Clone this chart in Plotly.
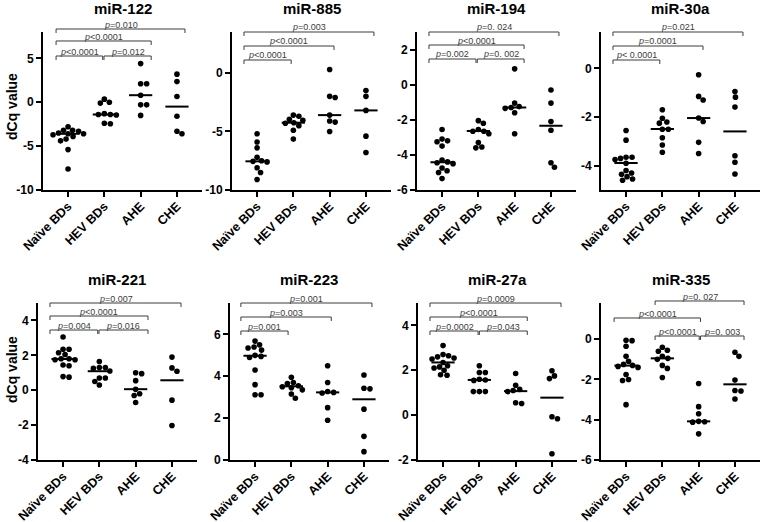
import numpy as np
import plotly.graph_objects as go

# ---------------- data ----------------
CATEGORIES = ["Naïve BDs", "HEV BDs", "AHE", "CHE"]
TITLES = ["miR-122", "miR-885", "miR-194", "miR-30a",
          "miR-221", "miR-223", "miR-27a", "miR-335"]

mir122 = [
    [-2.8, -3.2, -3.2, -3.3, -3.5, -3.6, -3.6, -3.7, -3.9, -4.2, -4.4, -5.4, -7.6],
    [0.35, 0.0, -0.1, -1.3, -1.4, -1.4, -1.45, -2.4, -2.45],
    [4.4, 2.1, 2.1, 0.8, -0.3, -0.3, -1.5],
    [3.2, 2.35, 0.65, -1.6, -3.3, -3.6],
]
mir122_median = [-3.6, -1.4, 0.8, -0.5]

mir885 = [
    [-5.2, -5.9, -6.4, -7.2, -7.5, -7.55, -7.6, -8.1, -8.5, -9.1],
    [-3.6, -3.7, -3.95, -4.05, -4.25, -4.3, -4.5, -4.9, -5.65],
    [0.3, -2.0, -2.1, -3.6, -4.1, -4.2, -5.0],
    [-1.5, -2.0, -3.2, -5.4, -6.8],
]
mir885_median = [-7.55, -4.25, -3.6, -3.2]

mir194 = [
    [-2.55, -3.1, -3.2, -3.25, -3.5, -4.3, -4.4, -4.45, -4.5, -4.75, -4.9, -5.0, -5.35],
    [-2.05, -2.2, -2.55, -2.65, -2.65, -2.8, -3.3, -3.55, -3.6],
    [0.9, -1.05, -1.25, -1.3, -1.35, -1.6, -2.8],
    [-0.3, -1.05, -2.1, -2.6, -4.45, -4.7],
]
mir194_median = [-4.42, -2.64, -1.3, -2.34]

mir30a = [
    [-2.55, -2.95, -3.65, -3.65, -3.7, -3.75, -3.9, -4.2, -4.3, -4.35, -4.45, -4.55, -4.6],
    [-1.7, -2.05, -2.2, -2.25, -2.5, -2.5, -2.85, -3.15, -3.45],
    [-0.26, -1.15, -1.3, -2.04, -2.18, -3.04, -3.5],
    [-0.95, -1.18, -1.59, -3.59, -3.86, -4.34],
]
mir30a_median = [-3.89, -2.49, -2.04, -2.59]

mir221 = [
    [3.05, 2.35, 2.35, 2.15, 2.05, 1.8, 1.8, 1.75, 1.75, 1.45, 1.4, 0.78, 0.75],
    [1.65, 1.3, 1.3, 1.25, 1.1, 0.7, 0.7, 0.5, 0.3],
    [1.0, 0.95, 0.55, 0.05, -0.2, -0.3, -0.7],
    [1.9, 1.28, 1.09, -0.57, -2.02],
]
mir221_median = [1.79, 1.09, 0.06, 0.57]

mir223 = [
    [5.68, 5.5, 5.4, 5.35, 5.25, 5.0, 4.95, 4.9, 4.3, 3.6, 3.12, 3.12],
    [3.95, 3.7, 3.65, 3.55, 3.5, 3.45, 3.35, 3.15, 2.95],
    [4.5, 3.7, 3.27, 3.23, 3.2, 2.5, 1.9],
    [4.06, 3.43, 3.4, 2.43, 1.13, 0.4],
]
mir223_median = [4.98, 3.52, 3.23, 2.9]

mir27a = [
    [3.1, 2.7, 2.65, 2.6, 2.55, 2.5, 2.35, 2.2, 2.15, 2.1, 2.0, 1.8, 1.78],
    [2.2, 1.9, 1.9, 1.6, 1.57, 1.55, 1.05, 1.05, 1.05],
    [1.86, 1.33, 1.15, 1.1, 1.05, 0.55, 0.52],
    [1.98, 1.75, 1.63, -0.07, -0.16, -1.72],
]
mir27a_median = [2.35, 1.57, 1.07, 0.78]

mir335 = [
    [-0.05, -0.07, -0.35, -0.85, -1.1, -1.25, -1.3, -1.35, -1.4, -1.75, -2.0, -2.05, -3.25],
    [-0.4, -0.55, -0.6, -0.85, -0.95, -1.0, -1.3, -1.45, -1.9],
    [-2.2, -3.35, -3.7, -4.08, -4.1, -4.12, -4.7],
    [-0.65, -0.85, -2.03, -2.55, -2.57, -2.97],
]
mir335_median = [-1.31, -0.95, -4.08, -2.24]

# p-value comparisons: (group a, group b, label)
cmp122 = [(0, 3, "=0.010"), (0, 2, "<0.0001"), (0, 1, "<0.0001"), (1, 2, "=0.012")]
cmp885 = [(0, 3, "=0.003"), (0, 2, "<0.0001"), (0, 1, "<0.0001")]
cmp194 = [(0, 3, "=0. 024"), (0, 2, "<0.0001"), (0, 1, "=0.002"), (1, 2, "=0. 002")]
cmp30a = [(0, 3, "=0.021"), (0, 2, "=0.0001"), (0, 1, "< 0.0001")]
cmp221 = [(0, 3, "=0.007"), (0, 2, "<0.0001"), (0, 1, "=0.004"), (1, 2, "=0.016")]
cmp223 = [(0, 3, "=0.001"), (0, 2, "=0.003"), (0, 1, "=0.001")]
cmp27a = [(0, 3, "=0.0009"), (0, 2, "<0.0001"), (0, 1, "=0.0002"), (1, 2, "=0.043")]
cmp335 = [(1, 3, "=0. 027"), (0, 2, "<0.0001"), (1, 2, "<0.0001"), (2, 3, "=0. 003")]

Y_RANGES = [[-10, 8], [-10, 3.5], [-6, 3], [-5, 1.5],
            [-4, 5], [0, 7.5], [-2, 5], [-6, 1.8]]
Y_TICKS = [[-10, -5, 0, 5], [-10, -5, 0], [-6, -4, -2, 0, 2], [-4, -2, 0],
           [-4, -2, 0, 2, 4], [0, 2, 4, 6], [-2, 0, 2, 4], [-6, -4, -2, 0]]

DATA = [mir122, mir885, mir194, mir30a, mir221, mir223, mir27a, mir335]
MEDIANS = [mir122_median, mir885_median, mir194_median, mir30a_median,
           mir221_median, mir223_median, mir27a_median, mir335_median]
COMPARISONS = [cmp122, cmp885, cmp194, cmp30a, cmp221, cmp223, cmp27a, cmp335]

# ---------------- layout / style ----------------
W, H = 760, 522
X_START_PX = [43, 232, 417, 601, 38, 230, 418, 601]
PLOT_W_PX = 159
ROW_TOP_PX = [32, 303]
ROW_BOT_PX = [190, 460]
X_RANGE = [-0.69, 3.69]
# bracket end positions (category units) and bracket heights (px from axis top)
BRK_X = [[-0.33, 0.99, 2.29, 3.22], [-0.36, 0.94, 2.12, 3.22],
         [-0.36, 0.97, 2.26, 3.22], [-0.36, 0.93, 2.12, 3.22],
         [-0.36, 0.99, 2.34, 3.25], [-0.39, 0.91, 2.10, 3.22],
         [-0.36, 1.00, 2.32, 3.25], [-0.33, 0.80, 2.05, 3.25]]
BRK_LEVEL_PX = [[-3, 9, 24, 24], [0, 14, 28], [0, 13, 27, 27], [0, 14, 28],
                [0, 13, 27, 27], [0, 14, 28], [0, 14, 28, 28], [-2, 15, 33, 33]]
FONT = "Liberation Sans, Arial, sans-serif"
DOT_PX = 5.6
MED_HALF = 0.32
BRK_COLOR = "#3c3c3c"


def px2py(px):
    return 1 - px / H


def swarm(values, ppu_y, ppu_x, diam):
    vals = np.asarray(values, dtype=float)
    order = np.argsort(-vals, kind="stable")
    placed = []
    offs = np.zeros(len(vals))
    for idx in order:
        y = vals[idx] * ppu_y
        best = 0.0
        for k in range(0, 200):
            cands = [0.0] if k == 0 else [k * 0.5, -k * 0.5]
            found = None
            for c in cands:
                if all((c - xo) ** 2 + (y - yo) ** 2 >= diam ** 2 for yo, xo in placed):
                    found = c
                    break
            if found is not None:
                best = found
                break
        placed.append((y, best))
        offs[idx] = best / ppu_x
    return offs


fig = go.Figure()
annotations = []
shapes = []

for p in range(8):
    row = p // 4
    ax = "" if p == 0 else str(p + 1)
    xa, ya = "x" + ax, "y" + ax
    top, bot = ROW_TOP_PX[row], ROW_BOT_PX[row]
    x0px = X_START_PX[p]
    yr = Y_RANGES[p]
    ppu_y = (bot - top) / (yr[1] - yr[0])
    ppu_x = PLOT_W_PX / (X_RANGE[1] - X_RANGE[0])

    for g, vals in enumerate(DATA[p]):
        offs = swarm(vals, ppu_y, ppu_x, DOT_PX)
        fig.add_trace(go.Scatter(
            x=[g + o for o in offs], y=vals, mode="markers",
            marker=dict(color="black", size=DOT_PX, line=dict(width=0)),
            xaxis=xa, yaxis=ya, showlegend=False, hoverinfo="y", cliponaxis=False))
        med = MEDIANS[p][g]
        fig.add_trace(go.Scatter(
            x=[g - MED_HALF, g + MED_HALF], y=[med, med], mode="lines",
            line=dict(color="black", width=2), xaxis=xa, yaxis=ya,
            showlegend=False, hoverinfo="skip"))

    dom_x = [x0px / W, min(1.0, (x0px + PLOT_W_PX) / W)]
    dom_y = [px2py(bot), px2py(top)]
    common = dict(showline=True, linecolor="black", linewidth=2, ticks="outside",
                  ticklen=5, tickwidth=1.6, tickcolor="black", showgrid=False,
                  zeroline=False, fixedrange=True, automargin=False)
    fig.layout["xaxis" + ax] = dict(
        common, domain=dom_x, range=X_RANGE, anchor=ya, tickmode="array",
        tickvals=[0, 1, 2, 3], ticktext=CATEGORIES, tickangle=-45,
        ticklabelstandoff=-3,
        tickfont=dict(family=FONT, size=12.6, color="black", weight="bold"))
    fig.layout["yaxis" + ax] = dict(
        common, domain=dom_y, range=yr, anchor=xa, tickmode="array",
        tickvals=Y_TICKS[p], ticktext=[str(t) for t in Y_TICKS[p]],
        tickfont=dict(family=FONT, size=12, color="black", weight="bold"))

    # title
    annotations.append(dict(
        text="<b>%s</b>" % TITLES[p], x=(dom_x[0] + dom_x[1]) / 2,
        y=px2py(top - 24), xref="paper", yref="paper",
        xanchor="center", yanchor="middle", showarrow=False,
        font=dict(family=FONT, size=15, color="black")))

    # brackets
    comps = COMPARISONS[p]
    levels = BRK_LEVEL_PX[p]
    bx = BRK_X[p]
    for k, (a, b, lab) in enumerate(comps):
        lvl = levels[k]
        xl = bx[a]
        xr = bx[b]
        # leave a tiny gap where two brackets on the same level meet
        for k2, (a2, b2, _) in enumerate(comps):
            if k2 != k and levels[k2] == lvl and a2 == b:
                xr -= 0.035
        yline = px2py(top + lvl)
        ytick = px2py(top + lvl + 4)
        shapes.append(dict(
            type="path", xref=xa, yref="paper",
            path="M %f,%f L %f,%f L %f,%f L %f,%f" % (xl, ytick, xl, yline, xr, yline, xr, ytick),
            line=dict(color=BRK_COLOR, width=1)))
        annotations.append(dict(
            text="<i>p</i>" + lab.replace("<", "&lt;"), x=(xl + xr) / 2, y=yline,
            xref=xa, yref="paper", xanchor="center", yanchor="bottom",
            showarrow=False, yshift=-1.5, borderpad=0,
            font=dict(family=FONT, size=9, color=BRK_COLOR)))

# y-axis titles
for cy in (107, 370):
    annotations.append(dict(
        text="<b>dCq value</b>", x=12 / W, y=px2py(cy), xref="paper", yref="paper",
        xanchor="center", yanchor="middle", textangle=-90, showarrow=False,
        font=dict(family=FONT, size=14, color="black")))

fig.update_layout(
    width=W, height=H, margin=dict(l=0, r=0, t=0, b=0, autoexpand=False),
    paper_bgcolor="white", plot_bgcolor="white",
    annotations=annotations, shapes=shapes, showlegend=False)

fig.write_html("out.html", config={"displayModeBar": False},
               post_script="document.body.style.margin='0';document.body.style.overflow='hidden';")
